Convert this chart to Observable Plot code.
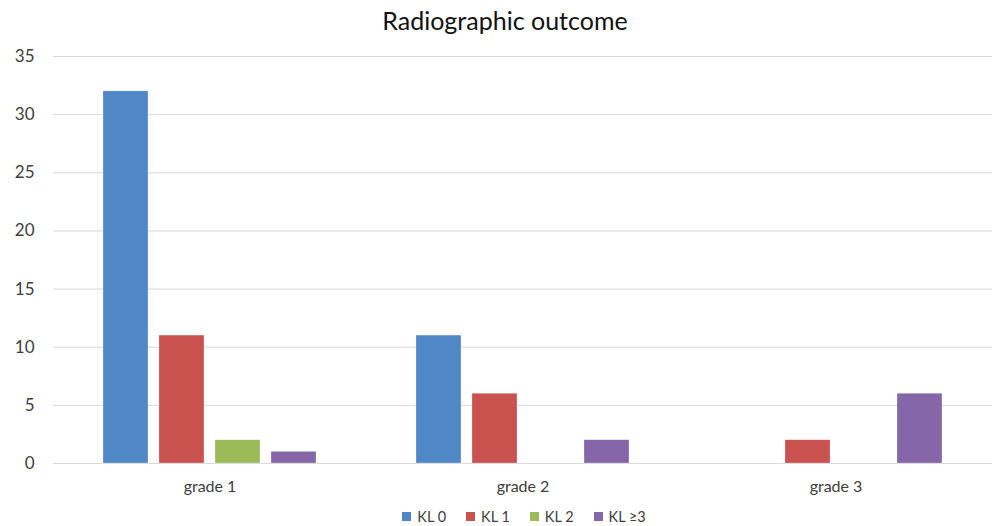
<!DOCTYPE html>
<html>
<head>
<meta charset="utf-8">
<script src="https://cdn.jsdelivr.net/npm/d3@7"></script>
<script src="https://cdn.jsdelivr.net/npm/@observablehq/plot@0.6"></script>
<style>
  html, body { margin: 0; padding: 0; background: #fff; }
  body { width: 992px; height: 526px; overflow: hidden; font-family: Lato, "Open Sans", sans-serif; color: #404040; }
  #title { height: 40px; line-height: 40px; text-align: center; font-size: 25px; color: #111; padding-left: 18px; box-sizing: border-box; }
  #legend { height: 20px; display: flex; justify-content: center; align-items: center; gap: 20px; font-size: 14.5px; color: #404040; padding-left: 56px; box-sizing: border-box; }
  #legend .item { display: flex; align-items: center; gap: 6px; }
  #legend .sw { width: 9px; height: 9px; display: inline-block; }
</style>
</head>
<body>
<div id="title">Radiographic outcome</div>
<div id="chart"></div>
<div id="legend"></div>
<script>
const grades = ["grade 1", "grade 2", "grade 3"];
const series = ["KL 0", "KL 1", "KL 2", "KL ≥3"];
const colors = ["#5087c7", "#c9514e", "#9bbb59", "#8566a8"];
const kl0 = [32, 11, 0];
const kl1 = [11, 6, 2];
const kl2 = [2, 0, 0];
const kl3 = [1, 2, 6];
const yTicks = [0, 5, 10, 15, 20, 25, 30, 35];

const seriesValues = [kl0, kl1, kl2, kl3];
const data = [];
grades.forEach((g, i) => {
  series.forEach((s, j) => {
    data.push({ grade: g, kl: s, value: seriesValues[j][i] });
  });
});

const chart = Plot.plot({
  width: 992,
  height: 466,
  marginLeft: 52,
  marginRight: 0,
  marginTop: 16,
  marginBottom: 43,
  style: { fontFamily: "Lato, 'Open Sans', sans-serif", color: "#404040", background: "#fff" },
  fx: { domain: grades, padding: 0, label: null },
  x: { domain: series, paddingInner: 0.2, paddingOuter: 0.88, axis: null },
  y: { domain: [0, 35], label: null },
  color: { domain: series, range: colors },
  marks: [
    Plot.ruleY(yTicks, { stroke: "#d9d9d9", strokeWidth: 1 }),
    Plot.barY(data, { fx: "grade", x: "kl", y: "value", fill: "kl", stroke: "#ffffff", strokeOpacity: 0.5, strokeWidth: 0.5 }),
    Plot.axisY(yTicks, { tickSize: 0, tickPadding: 19, fontSize: 17, label: null }),
    Plot.axisFx({ anchor: "bottom", tickSize: 0, tickPadding: 17, fontSize: 16, label: null })
  ]
});
document.getElementById("chart").appendChild(chart);

const legend = document.getElementById("legend");
series.forEach((s, i) => {
  const item = document.createElement("span");
  item.className = "item";
  const sw = document.createElement("span");
  sw.className = "sw";
  sw.style.background = colors[i];
  const t = document.createElement("span");
  t.textContent = s;
  item.appendChild(sw);
  item.appendChild(t);
  legend.appendChild(item);
});
</script>
</body>
</html>
